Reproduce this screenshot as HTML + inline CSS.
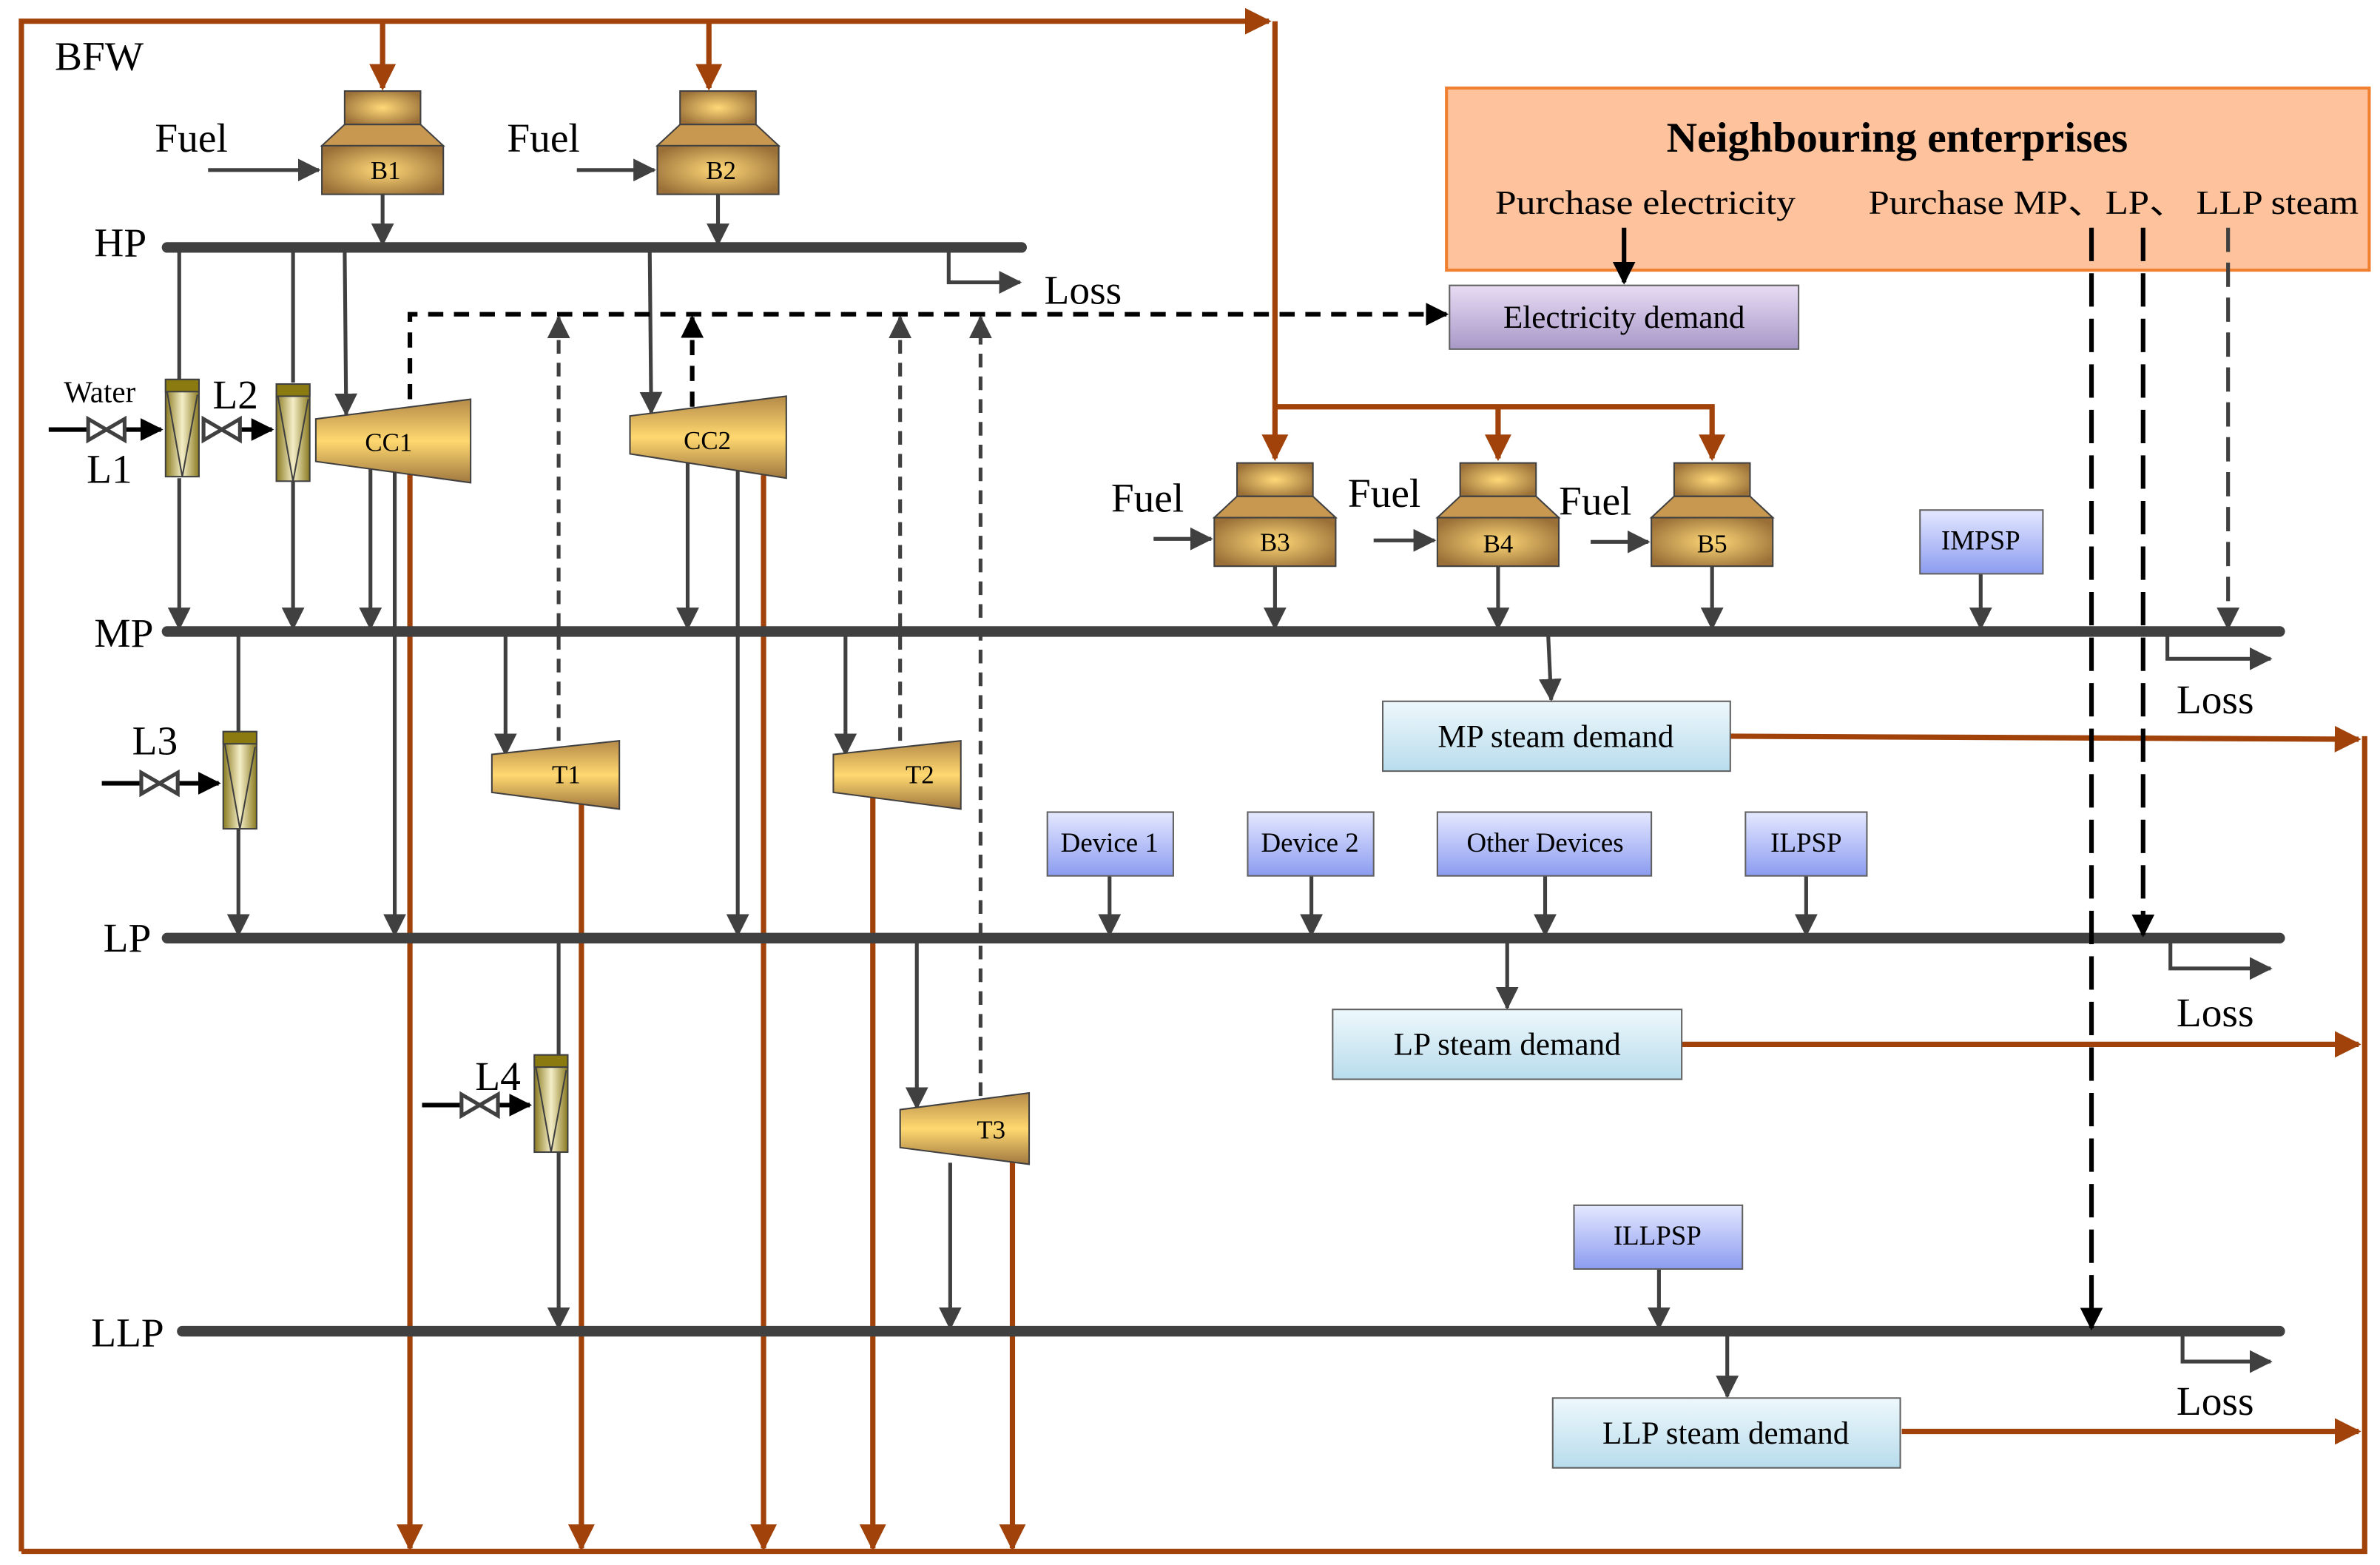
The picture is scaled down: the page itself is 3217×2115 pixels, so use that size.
<!DOCTYPE html>
<html><head><meta charset="utf-8"><style>
html,body{margin:0;padding:0;background:#fff}
svg{display:block}
text{font-family:"Liberation Serif",serif;fill:#000}
</style></head><body>
<svg width="3217" height="2115" viewBox="0 0 1568 1031" xmlns="http://www.w3.org/2000/svg">
<defs>
<radialGradient id="bg" cx="50%" cy="50%" r="60%"><stop offset="0" stop-color="#ffd878"/><stop offset="1" stop-color="#9a7038"/></radialGradient>
<linearGradient id="tg" x1="0" y1="0" x2="0" y2="1"><stop offset="0" stop-color="#b48a48"/><stop offset="0.5" stop-color="#ffd870"/><stop offset="1" stop-color="#a07840"/></linearGradient>
<linearGradient id="hg" x1="0" y1="0" x2="1" y2="0"><stop offset="0" stop-color="#8a7a20"/><stop offset="0.5" stop-color="#f4eec8"/><stop offset="1" stop-color="#8a7a20"/></linearGradient>
<linearGradient id="pg" x1="0" y1="0" x2="0" y2="1"><stop offset="0" stop-color="#e8dcf4"/><stop offset="1" stop-color="#a898c8"/></linearGradient>
<linearGradient id="cg" x1="0" y1="0" x2="0" y2="1"><stop offset="0" stop-color="#eef8fc"/><stop offset="1" stop-color="#b8dcec"/></linearGradient>
<linearGradient id="blg" x1="0" y1="0" x2="0" y2="1"><stop offset="0" stop-color="#e4e8ff"/><stop offset="1" stop-color="#8c9cf0"/></linearGradient>
<marker id="ab" markerWidth="5" markerHeight="5" refX="4.5" refY="2.5" orient="auto" markerUnits="strokeWidth"><path d="M0,0 L5,2.5 L0,5 Z" fill="#a0420a"/></marker>
<marker id="ag" markerWidth="6" markerHeight="6" refX="5.5" refY="3" orient="auto" markerUnits="strokeWidth"><path d="M0,0 L6,3 L0,6 Z" fill="#404040"/></marker>
<marker id="ak" markerWidth="5" markerHeight="5" refX="4.5" refY="2.5" orient="auto" markerUnits="strokeWidth"><path d="M0,0 L5,2.5 L0,5 Z" fill="#000"/></marker>
<g id="boiler" stroke="#404040" stroke-width="1">
<rect x="-25" y="0" width="50" height="22" fill="url(#bg)"/>
<path d="M-25,22 L25,22 L40,36 L-40,36 Z" fill="#c89850"/>
<rect x="-40" y="36" width="80" height="32" fill="url(#bg)"/>
</g>
<g id="heater" stroke="#404040" stroke-width="1">
<rect x="0" y="0" width="22" height="64" fill="url(#hg)"/>
<rect x="0" y="0" width="22" height="8" fill="#8a7a10"/>
<path d="M1,8 L11,64 L21,10" fill="none"/>
</g>
<g id="valve" stroke="#404040" stroke-width="2.5" fill="#fff"><path d="M-12,-7 L12,7 L12,-7 L-12,7 Z"/></g>
</defs>

<g stroke="#a0420a" stroke-width="3.5" fill="none">
<path d="M14,1022 L14,14 L836,14" marker-end="url(#ab)"/>
<path d="M14,1022 L1558,1022 L1558,485"/>
<path d="M840,14 L840,302" marker-end="url(#ab)"/>
<path d="M840,268 L1128,268 L1128,302" marker-end="url(#ab)"/>
<path d="M987,268 L987,302" marker-end="url(#ab)"/>
<path d="M252,14 L252,58" marker-end="url(#ab)"/>
<path d="M467,14 L467,58" marker-end="url(#ab)"/>
<path d="M270,310 L270,1020" marker-end="url(#ab)"/>
<path d="M383,528 L383,1020" marker-end="url(#ab)"/>
<path d="M503,313 L503,1020" marker-end="url(#ab)"/>
<path d="M575,523 L575,1020" marker-end="url(#ab)"/>
<path d="M667,764 L667,1020" marker-end="url(#ab)"/>
<path d="M1140,485 L1554,487" marker-end="url(#ab)"/>
<path d="M1108,688 L1554,688" marker-end="url(#ab)"/>
<path d="M1253,943 L1554,943" marker-end="url(#ab)"/>
</g>

<g stroke="#404040" stroke-width="7" stroke-linecap="round">
<line x1="110" y1="163" x2="673" y2="163"/>
<line x1="110" y1="416" x2="1502" y2="416"/>
<line x1="110" y1="618" x2="1502" y2="618"/>
<line x1="120" y1="877" x2="1502" y2="877"/>
</g>

<g stroke="#404040" stroke-width="2.5" fill="none">
<path d="M252,128 L252,161" marker-end="url(#ag)"/>
<path d="M473,128 L473,161" marker-end="url(#ag)"/>
<path d="M118,163 L118,250"/><path d="M118,315 L118,414" marker-end="url(#ag)"/>
<path d="M193,163 L193,252"/><path d="M193,317 L193,414" marker-end="url(#ag)"/>
<path d="M227,163 L228,273" marker-end="url(#ag)"/>
<path d="M428,163 L429,272" marker-end="url(#ag)"/>
<path d="M625,163 L625,186 L672,186" marker-end="url(#ag)"/>
<path d="M244,308 L244,414" marker-end="url(#ag)"/>
<path d="M260,309 L260,616" marker-end="url(#ag)"/>
<path d="M453,303 L453,414" marker-end="url(#ag)"/>
<path d="M486,309 L486,616" marker-end="url(#ag)"/>
<path d="M157,416 L157,482"/><path d="M157,545 L157,616" marker-end="url(#ag)"/>
<path d="M333,416 L333,497" marker-end="url(#ag)"/>
<path d="M557,416 L557,497" marker-end="url(#ag)"/>
<path d="M368,618 L368,695"/><path d="M368,759 L368,875" marker-end="url(#ag)"/>
<path d="M604,618 L604,730" marker-end="url(#ag)"/>
<path d="M626,766 L626,875" marker-end="url(#ag)"/>
<path d="M840,373 L840,414" marker-end="url(#ag)"/>
<path d="M987,373 L987,414" marker-end="url(#ag)"/>
<path d="M1128,373 L1128,414" marker-end="url(#ag)"/>
<path d="M1305,378 L1305,414" marker-end="url(#ag)"/>
<path d="M1020,418 L1022,461" marker-end="url(#ag)"/>
<path d="M731,577 L731,616" marker-end="url(#ag)"/>
<path d="M864,577 L864,616" marker-end="url(#ag)"/>
<path d="M1018,577 L1018,616" marker-end="url(#ag)"/>
<path d="M1190,577 L1190,616" marker-end="url(#ag)"/>
<path d="M993,620 L993,664" marker-end="url(#ag)"/>
<path d="M1093,836 L1093,875" marker-end="url(#ag)"/>
<path d="M1138,879 L1138,920" marker-end="url(#ag)"/>
<path d="M1428,418 L1428,434 L1496,434" marker-end="url(#ag)"/>
<path d="M1430,620 L1430,638 L1496,638" marker-end="url(#ag)"/>
<path d="M1438,879 L1438,897 L1496,897" marker-end="url(#ag)"/>
<path d="M137,112 L210,112" marker-end="url(#ag)"/>
<path d="M380,112 L431,112" marker-end="url(#ag)"/>
<path d="M760,355 L798,355" marker-end="url(#ag)"/>
<path d="M905,356 L945,356" marker-end="url(#ag)"/>
<path d="M1048,357 L1086,357" marker-end="url(#ag)"/>
</g>
<g stroke="#404040" stroke-width="2.5" fill="none" stroke-dasharray="9,6">
<path d="M368,488 L368,209" marker-end="url(#ag)"/>
<path d="M593,488 L593,209" marker-end="url(#ag)"/>
<path d="M646,722 L646,209" marker-end="url(#ag)"/>
</g>
<g stroke="#000" stroke-width="3" fill="none">
<path d="M270,263 L270,207 L953,207" stroke-dasharray="10,7" marker-end="url(#ak)"/>
<path d="M456,268 L456,209" stroke-dasharray="10,7" marker-end="url(#ak)"/>
<path d="M32,283 L106,283" marker-end="url(#ak)"/>
<path d="M135,283 L179,283" marker-end="url(#ak)"/>
<path d="M67,516 L144,516" marker-end="url(#ak)"/>
<path d="M278,728 L349,728" marker-end="url(#ak)"/>
</g>

<use href="#boiler" x="252" y="60"/>
<use href="#boiler" x="473" y="60"/>
<use href="#boiler" x="840" y="305"/>
<use href="#boiler" x="987" y="305"/>
<use href="#boiler" x="1128" y="305"/>
<g font-size="17" text-anchor="middle">
<text x="254" y="118">B1</text><text x="475" y="118">B2</text>
<text x="840" y="363">B3</text><text x="987" y="364">B4</text><text x="1128" y="364">B5</text>
</g>

<g stroke="#404040" stroke-width="1" fill="url(#tg)">
<path d="M208,276 L310,263 L310,318 L208,304 Z"/>
<path d="M415,274 L518,261 L518,315 L415,299 Z"/>
<path d="M324,497 L408,488 L408,533 L324,522 Z"/>
<path d="M549,497 L633,488 L633,533 L549,522 Z"/>
<path d="M593,731 L678,720 L678,767 L593,756 Z"/>
</g>
<g font-size="17" text-anchor="middle">
<text x="256" y="297">CC1</text><text x="466" y="296">CC2</text>
<text x="373" y="516">T1</text><text x="606" y="516">T2</text><text x="653" y="750">T3</text>
</g>

<use href="#heater" x="109" y="250"/>
<use href="#heater" x="182" y="253"/>
<use href="#heater" x="147" y="482"/>
<use href="#heater" x="352" y="695"/>
<use href="#valve" x="70" y="283"/>
<use href="#valve" x="146" y="283"/>
<use href="#valve" x="105" y="516"/>
<use href="#valve" x="316" y="728"/>

<g font-size="27">
<text x="36" y="46">BFW</text>
<text x="102" y="100">Fuel</text><text x="334" y="100">Fuel</text>
<text x="732" y="337">Fuel</text><text x="888" y="334">Fuel</text><text x="1027" y="339">Fuel</text>
<text x="62" y="169">HP</text><text x="62" y="426">MP</text><text x="68" y="627">LP</text><text x="60" y="887">LLP</text>
<text x="57" y="318">L1</text><text x="140" y="269">L2</text><text x="87" y="497">L3</text><text x="313" y="718">L4</text>
<text x="688" y="200">Loss</text><text x="1434" y="470">Loss</text><text x="1434" y="676">Loss</text><text x="1434" y="932">Loss</text>
</g>
<text x="42" y="265" font-size="20">Water</text>

<rect x="953" y="58" width="608" height="120" fill="#fec29c" stroke="#f08030" stroke-width="2"/>
<text x="1250" y="100" font-size="28" font-weight="bold" text-anchor="middle">Neighbouring enterprises</text>
<text x="985" y="141" font-size="22" textLength="198" lengthAdjust="spacingAndGlyphs">Purchase electricity</text>
<text x="1231" y="141" font-size="22" textLength="323" lengthAdjust="spacingAndGlyphs" font-family="Liberation Serif, Noto Serif CJK SC, serif">Purchase MP、LP、 LLP steam</text>

<g stroke="#000" stroke-width="3" fill="none">
<path d="M1070,150 L1070,186" marker-end="url(#ak)"/>
<path d="M1378,150 L1378,875" stroke-dasharray="22,8" marker-end="url(#ak)"/>
<path d="M1412,150 L1412,616" stroke-dasharray="22,8" marker-end="url(#ak)"/>
</g>
<path d="M1468,150 L1468,414" stroke="#404040" stroke-width="2.5" fill="none" stroke-dasharray="16,7" marker-end="url(#ag)"/>

<g stroke="#606060" stroke-width="1">
<rect x="955" y="188" width="230" height="42" fill="url(#pg)"/>
<rect x="911" y="462" width="229" height="46" fill="url(#cg)"/>
<rect x="878" y="665" width="230" height="46" fill="url(#cg)"/>
<rect x="1023" y="921" width="229" height="46" fill="url(#cg)"/>
<rect x="1265" y="336" width="81" height="42" fill="url(#blg)"/>
<rect x="690" y="535" width="83" height="42" fill="url(#blg)"/>
<rect x="822" y="535" width="83" height="42" fill="url(#blg)"/>
<rect x="947" y="535" width="141" height="42" fill="url(#blg)"/>
<rect x="1150" y="535" width="80" height="42" fill="url(#blg)"/>
<rect x="1037" y="794" width="111" height="42" fill="url(#blg)"/>
</g>
<g font-size="21" text-anchor="middle">
<text x="1070" y="216">Electricity demand</text>
<text x="1025" y="492">MP steam demand</text>
<text x="993" y="695">LP steam demand</text>
<text x="1137" y="951">LLP steam demand</text>
</g>
<g font-size="18" text-anchor="middle">
<text x="1305" y="362">IMPSP</text>
<text x="731" y="561">Device 1</text>
<text x="863" y="561">Device 2</text>
<text x="1018" y="561">Other Devices</text>
<text x="1190" y="561">ILPSP</text>
<text x="1092" y="820">ILLPSP</text>
</g>
</svg>
</body></html>
